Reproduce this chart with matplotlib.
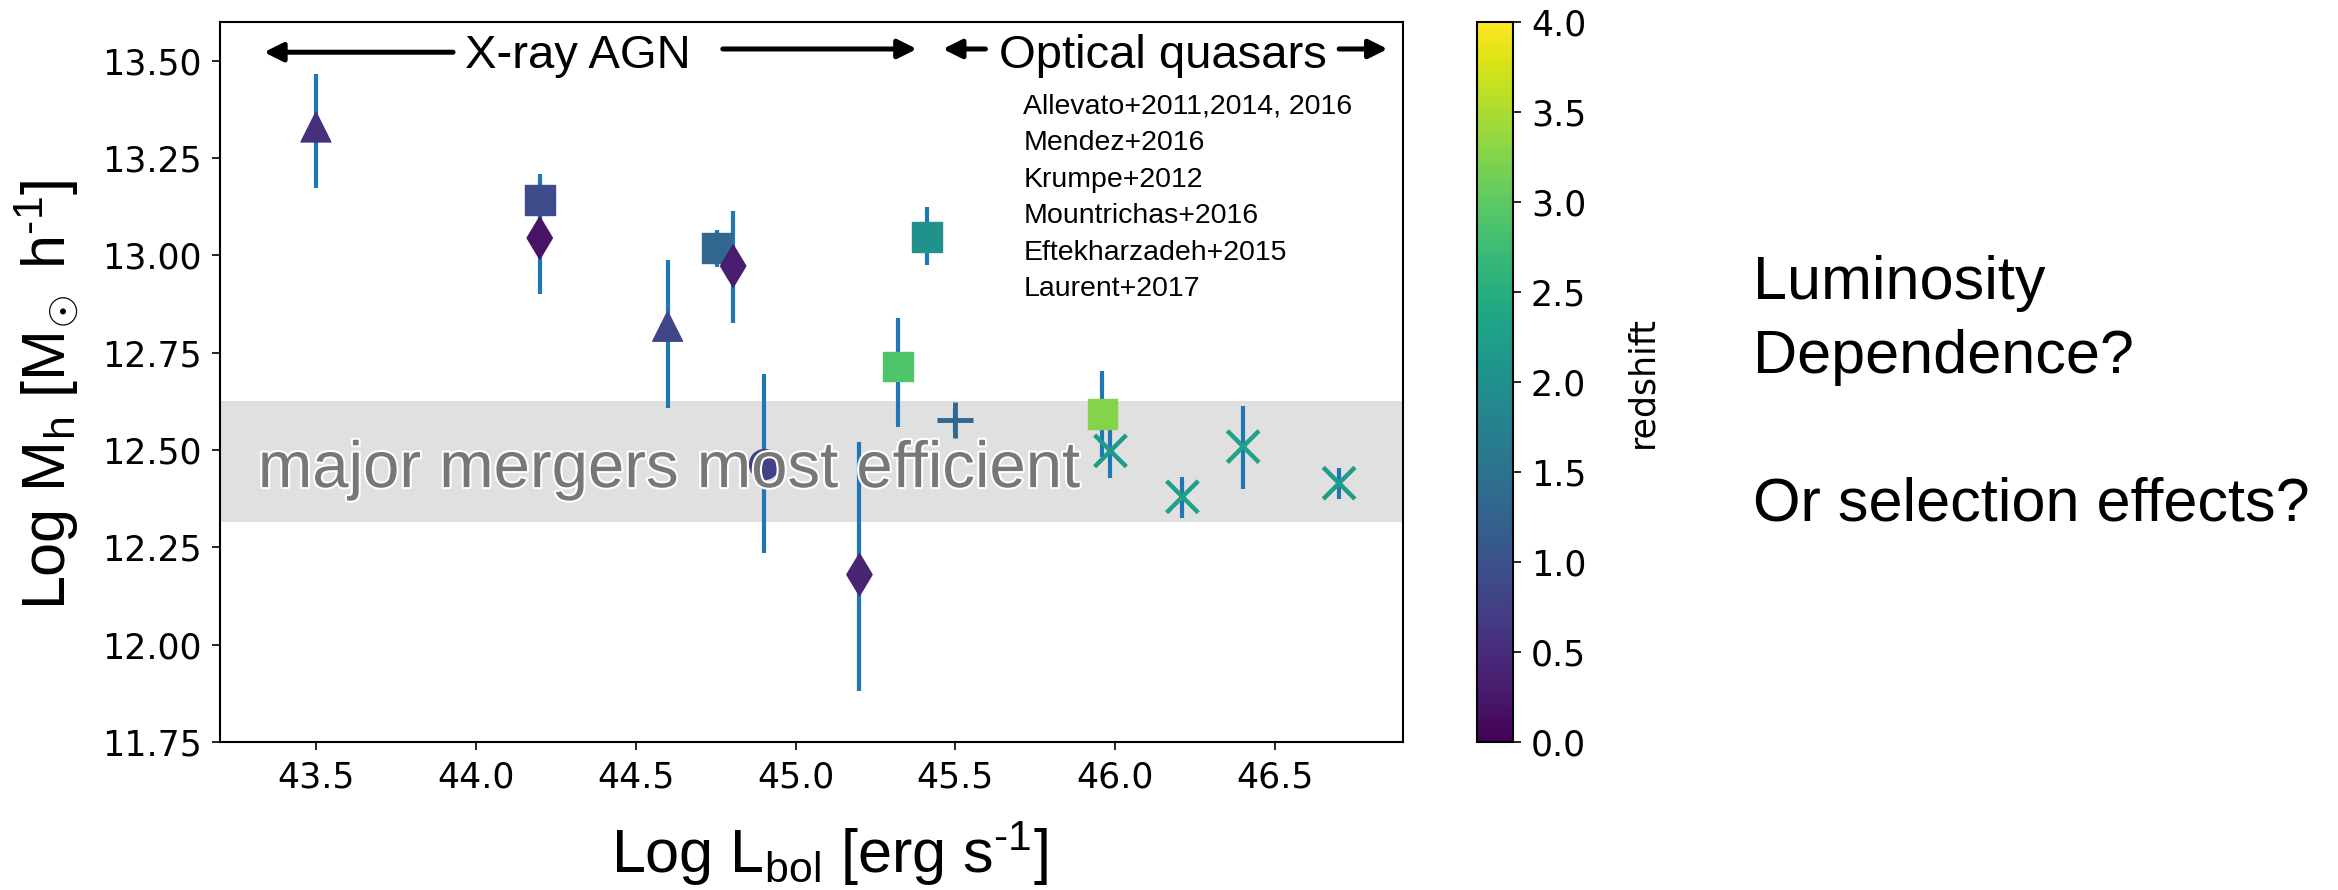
import matplotlib
matplotlib.use('Agg')
import matplotlib.pyplot as plt
import matplotlib.patheffects as pe
from matplotlib.cm import ScalarMappable
from matplotlib.colors import Normalize

# data
lbol     = [43.5, 44.2, 44.2, 44.6, 44.755, 44.805, 44.9, 45.2, 45.32, 45.41, 45.5, 45.96, 45.985, 46.21, 46.4, 46.7]
mhalo    = [13.33, 13.142, 13.045, 12.818, 13.02, 12.973, 12.465, 12.18, 12.715, 13.047, 12.577, 12.592, 12.498, 12.38, 12.509, 12.415]
err_lo   = [0.157, 0.06, 0.145, 0.21, 0.05, 0.147, 0.23, 0.30, 0.155, 0.072, 0.03, 0.11, 0.07, 0.055, 0.11, 0.04]
err_hi   = [0.136, 0.067, 0.145, 0.17, 0.045, 0.141, 0.23, 0.34, 0.125, 0.077, 0.03, 0.11, 0.07, 0.05, 0.105, 0.04]
redshift = [0.55, 0.9, 0.2, 0.85, 1.3, 0.3, 0.75, 0.4, 2.9, 2.0, 1.3, 3.25, 2.2, 2.25, 2.3, 2.2]
symbol   = ['^', 's', 'd', '^', 's', 'd', 'o', 'd', 's', 's', '+', 's', 'x', 'x', 'x', 'x']

studies = ['Allevato+2011,2014, 2016', 'Mendez+2016', 'Krumpe+2012',
           'Mountrichas+2016', 'Eftekharzadeh+2015', 'Laurent+2017']
band    = (12.315, 12.625)
yticks  = [11.75, 12.00, 12.25, 12.50, 12.75, 13.00, 13.25, 13.50]
xticks  = [43.5, 44.0, 44.5, 45.0, 45.5, 46.0, 46.5]
zticks  = [0.0, 0.5, 1.0, 1.5, 2.0, 2.5, 3.0, 3.5, 4.0]

# fonts
SANS = ['Liberation Sans', 'DejaVu Sans']
plt.rcParams['mathtext.fontset'] = 'custom'
plt.rcParams['mathtext.rm'] = 'Liberation Sans'
plt.rcParams['mathtext.it'] = 'Liberation Sans:italic'
plt.rcParams['mathtext.bf'] = 'Liberation Sans:bold'

fig = plt.figure( figsize=( 23.38, 8.9 ), dpi=100 )
ax  = fig.add_axes( [ 0.0941, 0.1663, 0.5060, 0.8090 ] )
cax = fig.add_axes( [ 0.6317, 0.1663, 0.0154, 0.8090 ] )

# band + error bars + markers
ax.axhspan( band[ 0 ], band[ 1 ], color='#e0e0e0', lw=0, zorder=0 )
ax.errorbar( lbol, mhalo, yerr=[ err_lo, err_hi ], fmt='none', ecolor='#1f77b4', elinewidth=3, zorder=2 )

norm = Normalize( vmin=0, vmax=4 )
for m in [ '^', 's', 'd', 'o', '+', 'x' ] :
	idx = [ i for i, s in enumerate( symbol ) if s == m ]
	xs  = [ lbol[ i ] for i in idx ]
	ys  = [ mhalo[ i ] for i in idx ]
	zs  = [ redshift[ i ] for i in idx ]
	if m == '+' :
		ax.scatter( xs, ys, c=zs, cmap='viridis', norm=norm, marker=m, s=700, linewidths=3.5, zorder=3 )
	elif m == 'x' :
		ax.scatter( xs, ys, c=zs, cmap='viridis', norm=norm, marker=m, s=520, linewidths=3.2, zorder=3 )
	else :
		ax.scatter( xs, ys, c=zs, cmap='viridis', norm=norm, marker=m, s=460, zorder=3 )

ax.set_xlim( 43.2, 46.9 )
ax.set_ylim( 11.75, 13.60 )
ax.set_xticks( xticks )
ax.set_yticks( yticks )
ax.set_yticklabels( [ '%.2f' % t for t in yticks ] )
ax.tick_params( labelsize=25, length=6, width=1.2, pad=7 )
for sp in ax.spines.values() : sp.set_linewidth( 1.5 )

# overlay text
ax.text( 0.032, 0.354, 'major mergers most efficient', transform=ax.transAxes, fontsize=47,
         family=SANS, color='#777777', va='baseline', ha='left', zorder=4,
         path_effects=[ pe.withStroke( linewidth=3, foreground='white' ) ] )
ax.text( 0.3026, 0.936, 'X-ray AGN', transform=ax.transAxes, fontsize=34, family=SANS, ha='center', va='baseline' )
ax.text( 0.797, 0.936, 'Optical quasars', transform=ax.transAxes, fontsize=34, family=SANS, ha='center', va='baseline' )
arrows = [ ( ( 0.0372, 0.958 ), ( 0.197, 0.958 ) ), ( ( 0.589, 0.9625 ), ( 0.425, 0.9625 ) ),
           ( ( 0.611, 0.9625 ), ( 0.647, 0.9625 ) ), ( ( 0.987, 0.9625 ), ( 0.946, 0.9625 ) ) ]
for tip, tail in arrows :
	ax.annotate( '', xy=tip, xytext=tail, xycoords='axes fraction', textcoords='axes fraction',
	             arrowprops=dict( arrowstyle='-|>', lw=3.6, color='black', mutation_scale=28, shrinkA=0, shrinkB=0 ) )
ax.text( 0.679, 0.9, '\n'.join( studies ), transform=ax.transAxes, fontsize=20.5, family=SANS,
         ha='left', va='top', linespacing=1.52 )

# colorbar
cb = fig.colorbar( ScalarMappable( norm=norm, cmap='viridis' ), cax=cax )
cb.set_ticks( zticks )
cb.ax.tick_params( labelsize=25, length=6, width=1.2, pad=7 )
cb.outline.set_linewidth( 1.5 )
cb.set_label( 'redshift', fontsize=25, labelpad=28 )

# axis labels and side text
fig.text( 0.3546, 0.0191, 'Log L$_{\\mathrm{bol}}$ [erg s$^{\\text{-1}}$]', fontsize=44, family=SANS, ha='center', va='baseline' )
fig.text( 0.0201, 0.556, 'Log M$_{\\mathrm{h}}$ [M$_{\\!\\odot}$ h$^{\\text{-1}}$]', fontsize=44, family=SANS,
          rotation=90, ha='center', va='center' )
fig.text( 0.7498, 0.7135, 'Luminosity\nDependence?\n\nOr selection effects?', fontsize=44, family=SANS,
          ha='left', va='top', linespacing=1.38 )

fig.savefig( 'out.png', dpi=100 )
